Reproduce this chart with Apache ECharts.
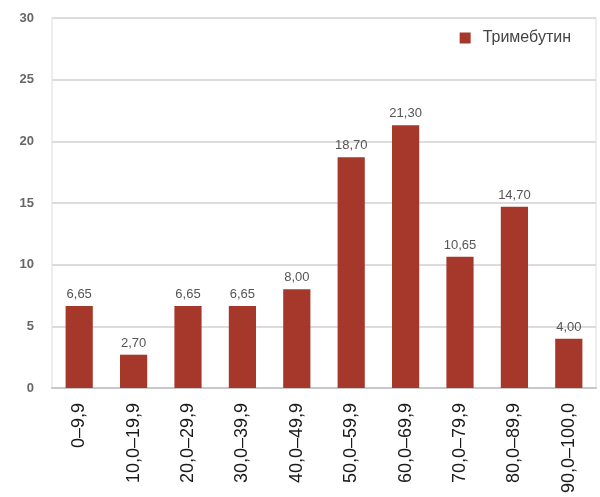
<!DOCTYPE html>
<html>
<head>
<meta charset="utf-8">
<script src="https://cdn.jsdelivr.net/npm/echarts@6/dist/echarts.min.js"></script>
<style>
html,body{margin:0;padding:0;background:#fff;}
#chart{width:600px;height:497px;}
</style>
</head>
<body>
<div id="chart"></div>
<script>
// Score ranges and share of patients (%) per range
var categories = ['0–9,9','10,0–19,9','20,0–29,9','30,0–39,9','40,0–49,9','50,0–59,9','60,0–69,9','70,0–79,9','80,0–89,9','90,0–100,0'];
var trimebutin = [6.65, 2.70, 6.65, 6.65, 8.00, 18.70, 21.30, 10.65, 14.70, 4.00];
var seriesName = 'Тримебутин';

var chart = echarts.init(document.getElementById('chart'));
chart.setOption({
  animation: false,
  textStyle: { fontFamily: 'Liberation Sans, Arial, sans-serif' },
  legend: {
    right: 24, top: 25,
    itemWidth: 11, itemHeight: 11, itemGap: 6,
    icon: 'rect',
    textStyle: { color: '#444', fontSize: 16, padding: [0, 0, 0, 7] },
    data: [seriesName]
  },
  grid: {
    left: 52, right: 4, top: 18, bottom: 109,
    show: true, borderColor: '#dcdcdc', borderWidth: 1
  },
  xAxis: {
    type: 'category',
    data: categories,
    axisLine: { lineStyle: { color: '#c8c8c8', width: 2 } },
    axisTick: { show: false },
    axisLabel: { rotate: 90, color: '#1a1a1a', fontSize: 18, margin: 15, interval: 0 }
  },
  yAxis: {
    type: 'value',
    min: 0, max: 30, interval: 5,
    axisLine: { show: false },
    axisTick: { show: false },
    splitLine: { lineStyle: { color: '#dcdcdc', width: 2 } },
    axisLabel: { color: '#666', fontSize: 13, fontWeight: 'bold', margin: 18 }
  },
  series: [{
    name: seriesName,
    type: 'bar',
    data: trimebutin,
    barWidth: '50%',
    itemStyle: { color: '#a5382b' },
    label: {
      show: true, position: 'top', distance: 5,
      color: '#555', fontSize: 13,
      formatter: function (p) { return p.value.toFixed(2).replace('.', ','); }
    }
  }]
});
</script>
</body>
</html>
